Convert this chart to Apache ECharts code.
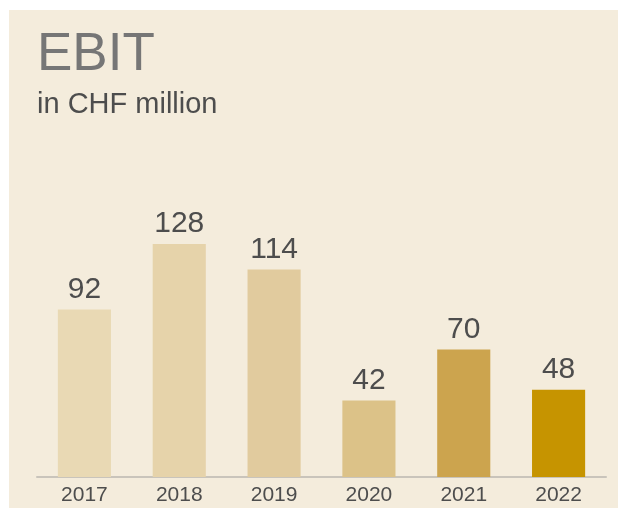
<!DOCTYPE html>
<html>
<head>
<meta charset="utf-8">
<script src="https://cdn.jsdelivr.net/npm/echarts@6/dist/echarts.min.js"></script>
<style>
    html, body { margin: 0; padding: 0; background: #ffffff; }
    .bar-chart {
        position: absolute;
        left: 9px;
        top: 10px;
        width: 609px;
        height: 498px;
    }
</style>
</head>
<body>
<div class="bar-chart" id="barChart"></div>
<script>
    // 年份与数值
    const years = ['2017', '2018', '2019', '2020', '2021', '2022']
    const ebit = [92, 128, 114, 42, 70, 48]
    const barColors = ['#e9d9b4', '#e6d3aa', '#e1cb9e', '#dcc288', '#cca44e', '#c69400']

    let myChart = echarts.init(document.getElementById('barChart'))
    myChart.setOption({
        backgroundColor: '#f4ecdc',
        animation: false,
        title: {
            text: 'EBIT',
            subtext: 'in CHF million',
            left: 23,
            top: 14,
            itemGap: 8,
            textStyle: {
                color: '#767676',
                fontFamily: 'Liberation Sans, Arial',
                fontWeight: 'normal',
                fontSize: 53
            },
            subtextStyle: {
                color: '#4d4d4d',
                fontFamily: 'Liberation Sans, Arial',
                fontSize: 29
            }
        },
        grid: {
            left: 28,
            right: 12,
            top: 194,
            bottom: 31,
            containLabel: false
        },
        xAxis: {
            type: 'category',
            data: years,
            axisLine: {
                show: true,
                lineStyle: { color: '#c9c4bb', width: 2 }
            },
            axisTick: { show: false },
            axisLabel: {
                color: '#4d4d4d',
                fontFamily: 'Liberation Sans, Arial',
                fontSize: 21,
                margin: 8
            }
        },
        yAxis: {
            type: 'value',
            min: 0,
            max: 150,
            show: false,
            splitLine: { show: false }
        },
        series: [{
            type: 'bar',
            barWidth: '56%',
            data: ebit.map((v, i) => ({ value: v, itemStyle: { color: barColors[i] } })),
            label: {
                show: true,
                position: 'top',
                distance: 5,
                color: '#4d4d4d',
                fontFamily: 'Liberation Sans, Arial',
                fontSize: 30
            }
        }]
    })
</script>
</body>
</html>
